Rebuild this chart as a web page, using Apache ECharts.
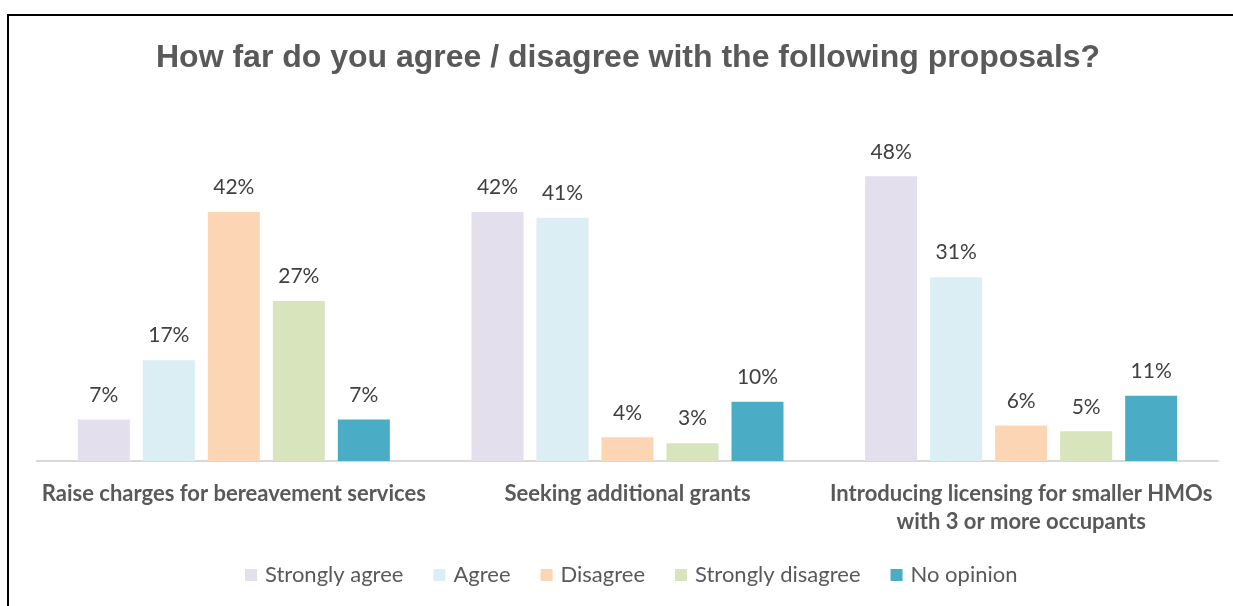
<!DOCTYPE html>
<html>
<head>
<meta charset="utf-8">
<script src="https://cdn.jsdelivr.net/npm/echarts@6/dist/echarts.min.js"></script>
<style>
  html, body { margin: 0; padding: 0; background: #fff; }
  #chart { width: 1233px; height: 606px; }
</style>
</head>
<body>
<div id="chart"></div>
<script>
// Proposals asked about in the survey
const categories = [
  'Raise charges for bereavement services',
  'Seeking additional grants',
  'Introducing licensing for smaller HMOs\nwith 3 or more occupants'
];

// Share of responses (%) for each answer option, per proposal
const stronglyAgree    = [7, 42, 48];
const agree            = [17, 41, 31];
const disagree         = [42, 4, 6];
const stronglyDisagree = [27, 3, 5];
const noOpinion        = [7, 10, 11];

const seriesNames  = ['Strongly agree', 'Agree', 'Disagree', 'Strongly disagree', 'No opinion'];
const seriesValues = [stronglyAgree, agree, disagree, stronglyDisagree, noOpinion];
const seriesColors = ['#E4DFEC', '#DAEEF3', '#FCD5B4', '#D8E4BC', '#4BACC6'];

const bodyFont = 'Lato, "Open Sans", sans-serif';

const chart = echarts.init(document.getElementById('chart'), null, { renderer: 'canvas' });

chart.setOption({
  backgroundColor: '#ffffff',
  animation: false,
  title: {
    text: 'How far do you agree / disagree with the following proposals?',
    left: 151,
    top: 37,
    textStyle: {
      fontFamily: '"Liberation Sans", Arial, sans-serif',
      fontWeight: 'bold',
      fontSize: 32,
      color: '#595959'
    }
  },
  graphic: [{
    type: 'rect',
    shape: { x: 8, y: 15, width: 1300, height: 700 },
    style: { fill: 'none', stroke: '#000000', lineWidth: 2 },
    silent: true,
    z: 100
  }],
  legend: {
    data: seriesNames,
    bottom: 15,
    left: 240,
    itemWidth: 12,
    itemHeight: 12,
    itemGap: 30,
    icon: 'rect',
    textStyle: { fontFamily: bodyFont, fontSize: 22, color: '#595959', padding: [0, 0, 0, 3] }
  },
  grid: { left: 37, right: 15, top: 164.5, bottom: 145, containLabel: false },
  xAxis: {
    type: 'category',
    data: categories,
    axisLine: { lineStyle: { color: '#D9D9D9', width: 2 } },
    axisTick: { show: false },
    axisLabel: {
      interval: 0,
      margin: 19,
      fontFamily: bodyFont,
      fontWeight: 'bold',
      fontSize: 22,
      lineHeight: 28,
      color: '#595959'
    }
  },
  yAxis: {
    type: 'value',
    min: 0,
    max: 50,
    show: false,
    splitLine: { show: false }
  },
  series: seriesNames.map((name, i) => ({
    name: name,
    type: 'bar',
    data: seriesValues[i],
    barWidth: 52,
    barGap: '25%',
    itemStyle: { color: seriesColors[i] },
    label: {
      show: true,
      position: 'top',
      distance: 14,
      formatter: '{c}%',
      fontFamily: bodyFont,
      fontSize: 21,
      color: '#404040'
    }
  }))
});
</script>
</body>
</html>
